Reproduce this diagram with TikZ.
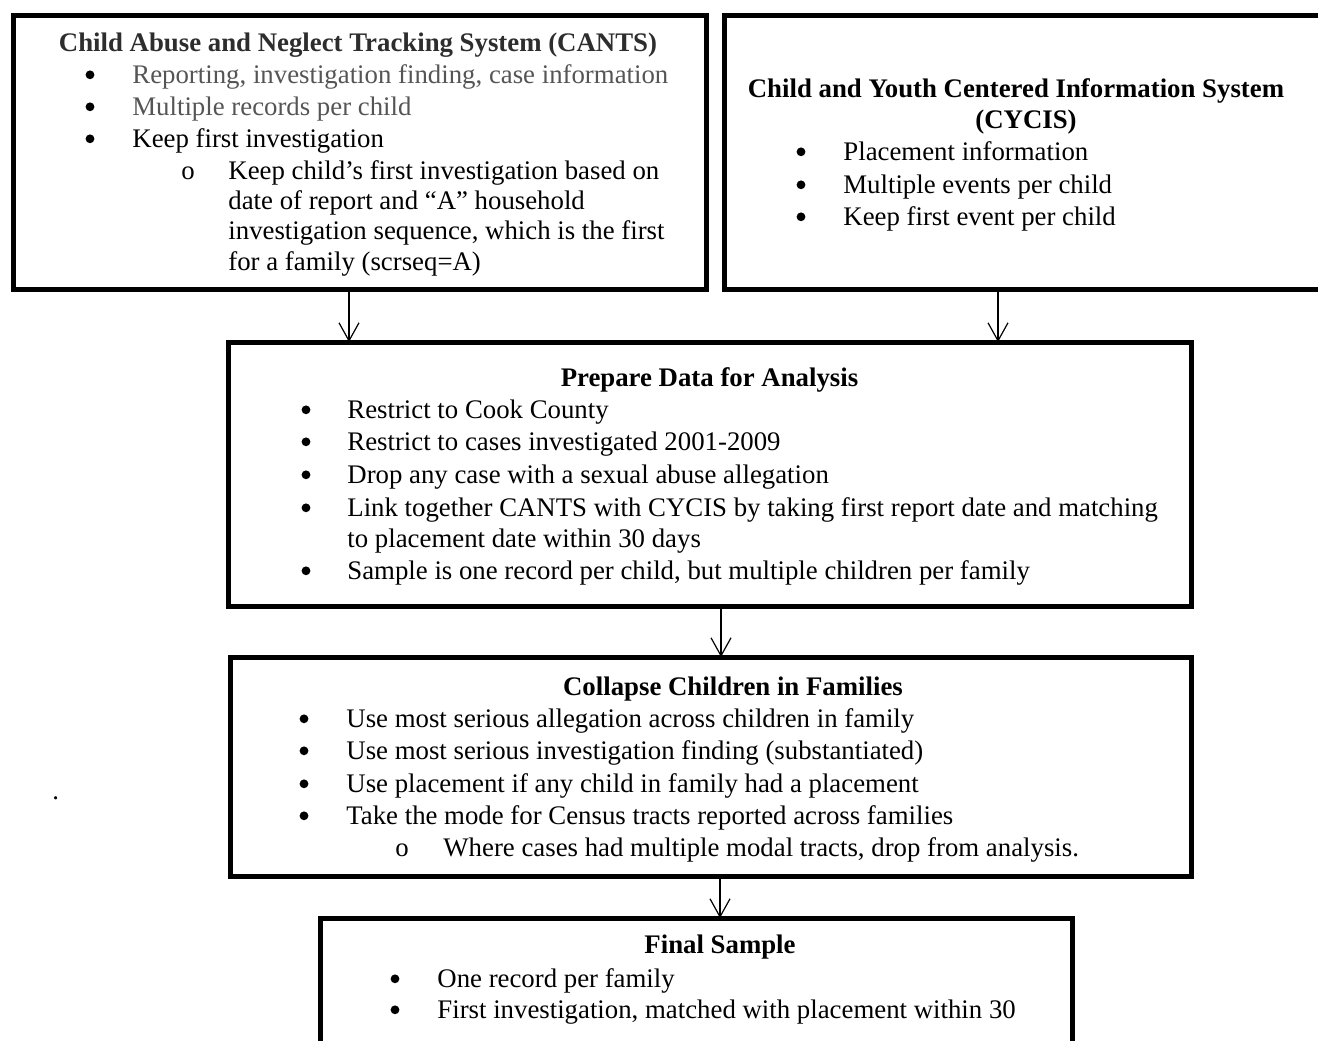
\documentclass[tikz,border=0pt]{standalone}
\usepackage{fontspec}
\setmainfont{Liberation Serif}
\usetikzlibrary{arrows.meta}
\definecolor{txtgray}{RGB}{85,85,85}
\definecolor{ttlgray}{RGB}{45,45,45}
\tikzset{
  box/.style={draw=black, line width=2.5pt, rectangle, outer sep=0pt, inner sep=0pt},
  arr/.style={draw=black, line width=0.6pt, -{Straight Barb[length=9pt,width=10pt,line width=0.6pt]}},
  txt/.style={anchor=base west, inner sep=0pt, font=\fontsize{13.4}{16}\selectfont},
  ttl/.style={anchor=base, inner sep=0pt, font=\fontsize{13.4}{16}\selectfont\bfseries},
  bul/.style={anchor=base, inner sep=0pt, font=\fontsize{13.4}{16}\selectfont},
  dotbul/.style={circle, fill=black, inner sep=0pt, minimum size=4.4pt, yshift=4.1pt}
}
\begin{document}
\begin{tikzpicture}[x=0.5pt,y=-0.5pt]
\useasboundingbox (0,0) rectangle (1318,1040);
\fill[white] (0,0) rectangle (1318,1040);

% boxes
\node[box, minimum width=346.5pt, minimum height=137pt] (cants) at (359.5,152) {};
\node[box, minimum width=308pt, minimum height=137pt] (cycis) at (1032,152) {};
\node[box, minimum width=481.5pt, minimum height=132pt] (prep) at (709.5,474) {};
\node[box, minimum width=480.5pt, minimum height=109.5pt] (coll) at (710.5,766.5) {};
\node[box, minimum width=376pt, minimum height=76pt] (final) at (696,994) {};

% CANTS text
\node[ttl, text=ttlgray] (t1) at (358,51) {Child Abuse and Neglect Tracking System (CANTS)};
\node[dotbul] (b11) at (90,83) {};
\node[txt, text=txtgray] (l11) at (132,83) {Reporting, investigation finding, case information};
\node[dotbul] (b12) at (90,115) {};
\node[txt, text=txtgray] (l12) at (132,115) {Multiple records per child};
\node[dotbul] (b13) at (90,147) {};
\node[txt] (l13) at (132,147) {Keep first investigation};
\node[bul] (s11) at (188,179) {o};
\node[txt] (l14) at (228,179) {Keep child’s first investigation based on};
\node[txt] (l15) at (228,209) {date of report and “A” household};
\node[txt] (l16) at (228,239) {investigation sequence, which is the first};
\node[txt] (l17) at (228,270) {for a family (scrseq=A)};

% CYCIS text
\node[ttl] (t2) at (1016,97) {Child and Youth Centered Information System};
\node[ttl] (t2b) at (1026,128) {(CYCIS)};
\node[dotbul] (b21) at (801,160) {};
\node[txt] (l21) at (843,160) {Placement information};
\node[dotbul] (b22) at (801,193) {};
\node[txt] (l22) at (843,193) {Multiple events per child};
\node[dotbul] (b23) at (801,225) {};
\node[txt] (l23) at (843,225) {Keep first event per child};

% Prepare text
\node[ttl] (t3) at (709.5,386) {Prepare Data for Analysis};
\node[dotbul] (b31) at (306,418) {};
\node[txt] (l31) at (347,418) {Restrict to Cook County};
\node[dotbul] (b32) at (306,450) {};
\node[txt] (l32) at (347,450) {Restrict to cases investigated 2001-2009};
\node[dotbul] (b33) at (306,483) {};
\node[txt] (l33) at (347,483) {Drop any case with a sexual abuse allegation};
\node[dotbul] (b34) at (306,516) {};
\node[txt] (l34) at (347,516) {Link together CANTS with CYCIS by taking first report date and matching};
\node[txt] (l35) at (347,547) {to placement date within 30 days};
\node[dotbul] (b36) at (306,579) {};
\node[txt] (l36) at (347,579) {Sample is one record per child, but multiple children per family};

% Collapse text
\node[ttl] (t4) at (733,695) {Collapse Children in Families};
\node[dotbul] (b41) at (304,727) {};
\node[txt] (l41) at (346,727) {Use most serious allegation across children in family};
\node[dotbul] (b42) at (304,759) {};
\node[txt] (l42) at (346,759) {Use most serious investigation finding (substantiated)};
\node[dotbul] (b43) at (304,792) {};
\node[txt] (l43) at (346,792) {Use placement if any child in family had a placement};
\node[dotbul] (b44) at (304,824) {};
\node[txt] (l44) at (346,824) {Take the mode for Census tracts reported across families};
\node[bul] (s41) at (402,856) {o};
\node[txt] (l45) at (443,856) {Where cases had multiple modal tracts, drop from analysis.};

% Final text
\node[ttl] (t5) at (720,953) {Final Sample};
\node[dotbul] (b51) at (395,987) {};
\node[txt] (l51) at (437,987) {One record per family};
\node[dotbul] (b52) at (395,1018) {};
\node[txt] (l52) at (437,1018) {First investigation, matched with placement within 30};

% stray dot
\node[txt] (dot) at (52,799) {.};

% connectors
\coordinate (a1) at (349,0);
\coordinate (a2) at (998,0);
\coordinate (a3) at (721,0);
\coordinate (a4) at (720,0);
\draw[arr] (cants.south -| a1) -- (prep.north -| a1);
\draw[arr] (cycis.south -| a2) -- (prep.north -| a2);
\draw[arr] (prep.south -| a3) -- (coll.north -| a3);
\draw[arr] (coll.south -| a4) -- (final.north -| a4);
\end{tikzpicture}
\end{document}
